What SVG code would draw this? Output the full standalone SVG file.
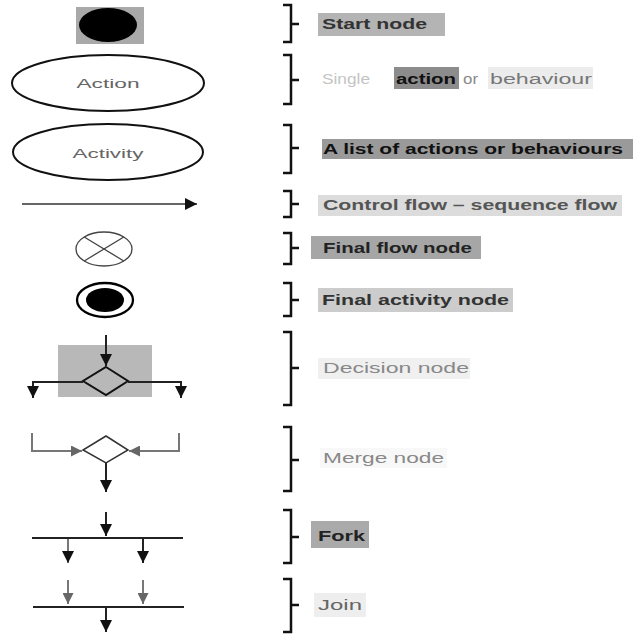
<svg xmlns="http://www.w3.org/2000/svg" width="640" height="640" viewBox="0 0 640 640">
<defs>
<marker id="ah" viewBox="0 0 10 10" refX="10" refY="5" markerWidth="12" markerHeight="12" markerUnits="userSpaceOnUse" orient="auto">
<path d="M0,0 L10,5 L0,10 z" fill="#111"/>
</marker>
<marker id="ahg" viewBox="0 0 10 10" refX="10" refY="5" markerWidth="11" markerHeight="11" markerUnits="userSpaceOnUse" orient="auto">
<path d="M0,0 L10,5 L0,10 z" fill="#666"/>
</marker>
<style>
.brace{fill:none;stroke:#111;stroke-width:2.5}
.lab{font-family:"Liberation Sans",Arial,sans-serif;font-size:14px;font-weight:bold}
.labn{font-family:"Liberation Sans",Arial,sans-serif;font-size:14px;font-weight:normal}
.in{font-family:"Liberation Sans",Arial,sans-serif;font-size:13px;fill:#666;text-anchor:middle}
.ln{fill:none;stroke:#222;stroke-width:2}
.lg{fill:none;stroke:#777;stroke-width:2}
.bar{stroke:#222;stroke-width:2.2}
</style>
</defs>
<rect width="640" height="640" fill="#fff"/>

<g id="start-node">
<rect x="76" y="7" width="68" height="37" fill="#a9a9a9"/>
<ellipse cx="108" cy="25" rx="29" ry="17" fill="#000"/>
</g>
<g id="action">
<ellipse cx="108" cy="83" rx="96" ry="28" fill="#fff" stroke="#111" stroke-width="2"/>
<text class="in" x="108" y="88" textLength="63" lengthAdjust="spacingAndGlyphs">Action</text>
</g>
<g id="activity">
<ellipse cx="108" cy="152" rx="95" ry="28" fill="#fff" stroke="#111" stroke-width="2"/>
<text class="in" x="108" y="158" textLength="71" lengthAdjust="spacingAndGlyphs">Activity</text>
</g>
<g id="final-flow-node">
<ellipse cx="104" cy="249" rx="28" ry="17" fill="#fff" stroke="#444" stroke-width="1.3"/>
<path d="M84.2,237 L123.8,261 M84.2,261 L123.8,237" stroke="#444" stroke-width="1.3"/>
</g>
<g id="final-activity-node">
<ellipse cx="105" cy="300" rx="28" ry="17" fill="#fff" stroke="#000" stroke-width="2.3"/>
<ellipse cx="105" cy="300" rx="19" ry="12" fill="#000"/>
</g>
<g id="decision-node">
<rect x="58" y="345" width="94" height="52" fill="#b8b8b8"/>
<path d="M106,367 L128,381 L106,395 L83,381 z" fill="none" stroke="#111" stroke-width="2"/>
</g>
<g id="merge-node">
<path d="M106,436 L128,450 L106,463 L83,450 z" fill="#fff" stroke="#333" stroke-width="1.5"/>
</g>
<g id="fork">
<line class="bar" x1="32" y1="538" x2="183" y2="538"/>
</g>
<g id="join">
<line class="bar" x1="33" y1="607" x2="184" y2="607"/>
</g>

<g id="connectors">
<line x1="22" y1="204" x2="197" y2="204" stroke="#333" stroke-width="1.5" marker-end="url(#ah)"/>
<line class="ln" x1="106" y1="335" x2="106" y2="366" marker-end="url(#ah)"/>
<path class="ln" d="M83,382 H33 V398" marker-end="url(#ah)"/>
<path class="ln" d="M128,382 H181 V398" marker-end="url(#ah)"/>
<path class="lg" d="M32,433 V451 H82" marker-end="url(#ahg)"/>
<path class="lg" d="M179,433 V451 H129" marker-end="url(#ahg)"/>
<line class="ln" x1="106" y1="463" x2="106" y2="492" marker-end="url(#ah)"/>
<line class="ln" x1="106" y1="512" x2="106" y2="536" marker-end="url(#ah)"/>
<line class="lg" x1="68" y1="539" x2="68" y2="563" marker-end="url(#ah)"/>
<line class="ln" x1="143" y1="539" x2="143" y2="563" marker-end="url(#ah)"/>
<line class="lg" x1="68" y1="580" x2="68" y2="604" marker-end="url(#ahg)"/>
<line class="lg" x1="143" y1="580" x2="143" y2="604" marker-end="url(#ahg)"/>
<line class="ln" x1="106" y1="608" x2="106" y2="632" marker-end="url(#ah)"/>
</g>

<g id="braces">
<path class="brace" d="M283,5 H291 V42 H283 M291,24 H299"/>
<path class="brace" d="M283,55 H291 V104 H283 M291,80 H299"/>
<path class="brace" d="M283,125 H291 V173 H283 M291,148 H299"/>
<path class="brace" d="M283,191 H291 V217 H283 M291,204 H299"/>
<path class="brace" d="M283,233 H291 V264 H283 M291,248 H299"/>
<path class="brace" d="M283,283 H291 V316 H283 M291,300 H299"/>
<path class="brace" d="M283,332 H291 V405 H283 M291,368 H299"/>
<path class="brace" d="M283,427 H291 V491 H283 M291,460 H299"/>
<path class="brace" d="M283,510 H291 V563 H283 M291,537 H299"/>
<path class="brace" d="M283,579 H291 V632 H283 M291,605 H299"/>
</g>

<g id="labels">
<rect x="318" y="13" width="127" height="23" fill="#b4b4b4"/>
<text class="lab" x="322" y="29" fill="#333" textLength="105" lengthAdjust="spacingAndGlyphs">Start node</text>

<rect x="394" y="67" width="65" height="22" fill="#8c8c8c"/>
<rect x="488" y="67" width="105" height="22" fill="#ececec"/>
<text class="labn" x="322" y="84" fill="#c4c4c4" textLength="48" lengthAdjust="spacingAndGlyphs">Single</text>
<text class="lab" x="396" y="84" fill="#111" textLength="60" lengthAdjust="spacingAndGlyphs">action</text>
<text class="labn" x="463" y="84" fill="#888" textLength="15" lengthAdjust="spacingAndGlyphs">or</text>
<text class="labn" x="490" y="84" fill="#777" textLength="102" lengthAdjust="spacingAndGlyphs">behaviour</text>

<rect x="322" y="139" width="311" height="20" fill="#9a9a9a"/>
<text class="lab" x="323" y="154" fill="#111" textLength="300" lengthAdjust="spacingAndGlyphs">A list of actions or behaviours</text>

<rect x="318" y="195" width="304" height="21" fill="#dcdcdc"/>
<text class="lab" x="323" y="210" fill="#555" textLength="294" lengthAdjust="spacingAndGlyphs">Control flow – sequence flow</text>

<rect x="311" y="236" width="170" height="23" fill="#a6a6a6"/>
<text class="lab" x="323" y="253" fill="#222" textLength="149" lengthAdjust="spacingAndGlyphs">Final flow node</text>

<rect x="318" y="288" width="195" height="24" fill="#cccccc"/>
<text class="lab" x="322" y="305" fill="#333" textLength="187" lengthAdjust="spacingAndGlyphs">Final activity node</text>

<rect x="318" y="358" width="152" height="21" fill="#f0f0f0"/>
<text class="labn" x="323" y="373" fill="#888" textLength="146" lengthAdjust="spacingAndGlyphs">Decision node</text>

<rect x="320" y="448" width="127" height="20" fill="#f8f8f8"/>
<text class="labn" x="323" y="463" fill="#888" textLength="121" lengthAdjust="spacingAndGlyphs">Merge node</text>

<rect x="311" y="521" width="58" height="27" fill="#aaaaaa"/>
<text class="lab" x="318" y="541" fill="#222" textLength="47" lengthAdjust="spacingAndGlyphs">Fork</text>

<rect x="314" y="593" width="52" height="24" fill="#eeeeee"/>
<text class="labn" x="318" y="610" fill="#666" textLength="44" lengthAdjust="spacingAndGlyphs">Join</text>
</g>
</svg>
